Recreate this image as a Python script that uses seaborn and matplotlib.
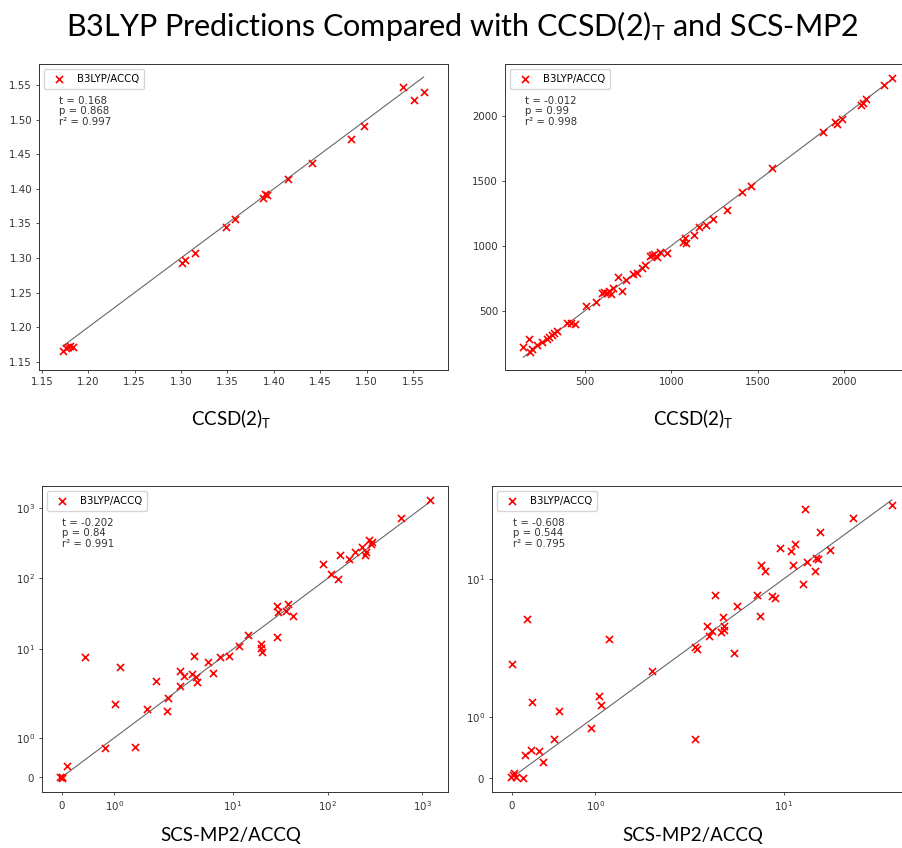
import numpy as np
import matplotlib
matplotlib.use("Agg")
import matplotlib.pyplot as plt
import seaborn as sns

# 参考值
# 上左: 键长 CCSD(2)T vs B3LYP
bond_ccsd = [1.1726, 1.1762, 1.1780, 1.1806, 1.1834, 1.3010, 1.3046, 1.3146, 1.3480, 1.3580,
             1.3880, 1.3910, 1.3930, 1.4157, 1.4415, 1.4830, 1.4967, 1.5390, 1.5515, 1.5616]
bond_b3lyp = [1.1659, 1.1693, 1.1717, 1.1731, 1.1717, 1.2930, 1.2970, 1.3070, 1.3450, 1.3560,
              1.3870, 1.3930, 1.3910, 1.4140, 1.4368, 1.4724, 1.4912, 1.5476, 1.5278, 1.5393]

# 上右: 频率 CCSD(2)T vs B3LYP
freq_ccsd = [143, 178, 182, 195, 224, 249, 278, 292, 307, 323, 336, 396, 419, 442, 506, 564,
             596, 610, 625, 639, 650, 664, 689, 712, 735, 776, 799, 828, 847, 876, 886, 899,
             915, 934, 972, 1069, 1078, 1084, 1132, 1161, 1200, 1242, 1320, 1410, 1458, 1584,
             1875, 1946, 1956, 1989, 2100, 2110, 2129, 2230, 2278]
freq_b3lyp = [218, 282, 185, 203, 236, 262, 279, 295, 313, 331, 344, 403, 408, 397, 536, 569,
              633, 646, 633, 654, 626, 672, 762, 654, 736, 779, 787, 826, 851, 921, 928, 936,
              910, 954, 946, 1026, 1059, 1023, 1085, 1141, 1159, 1205, 1277, 1415, 1456, 1595,
              1877, 1949, 1936, 1974, 2085, 2097, 2128, 2238, 2287]

# 下左: SCS-MP2/ACCQ vs B3LYP
int1_scs = [0.0, 0.01, -0.02, 0.095, 0.448, 0.827, 1.017, 1.112, 1.39, 1.62, 1.80, 2.02, 2.07,
            2.75, 2.79, 3.03, 3.71, 3.86, 4.12, 4.18, 5.46, 6.16, 7.24, 9.16, 11.5, 14.6,
            19.7, 19.7, 20.2, 29.6, 29.1, 30.0, 36.5, 38.6, 42.8, 90.2, 110, 130, 135, 169,
            194, 234, 248, 254, 273, 286, 298, 601, 1196]
int1_b3lyp = [0.02, -0.02, 0.0, 0.296, 7.83, 0.745, 1.86, 5.53, 0.78, 1.74, 3.51, 1.68, 2.02,
              3.05, 4.97, 4.13, 4.45, 8.08, 4.00, 3.40, 6.51, 4.60, 7.66, 7.91, 11.2, 15.8,
              11.8, 10.25, 9.20, 14.7, 41.1, 33.1, 34.9, 43.4, 29.0, 161, 114, 99.8, 213, 191,
              238, 279, 213, 238, 355, 311, 329, 718, 1288]

# 下右: SCS-MP2/ACCQ vs B3LYP
int2_scs = [0.012, 0.032, -0.008, 0.052, 0.132, 0.008, 0.243, 0.188, 0.571, 0.511, 0.160,
            0.231, 0.331, 0.379, 0.950, 1.050, 1.070, 1.169, 1.676, 2.57, 2.66, 2.58, 3.10,
            3.18, 3.35, 3.49, 3.86, 3.96, 4.04, 4.04, 4.71, 4.91, 6.67, 7.02, 7.13, 7.50,
            8.39, 8.83, 9.54, 11.2, 11.5, 12.0, 13.4, 13.8, 14.3, 16.3, 16.5, 16.9, 17.4,
            20.3, 29.0, 52.7]
int2_b3lyp = [0.038, 0.082, 0.016, 0.016, 0.0, 1.863, 1.233, 4.32, 1.096, 0.630, 0.373,
              0.455, 0.444, 0.258, 0.822, 1.342, 1.189, 2.84, 1.754, 2.42, 2.30, 0.641, 3.76,
              3.05, 3.38, 7.16, 3.27, 4.48, 3.71, 3.40, 2.10, 5.72, 7.16, 4.64, 13.3, 11.8,
              6.97, 6.73, 19.2, 18.2, 13.5, 20.9, 9.03, 43.4, 14.4, 11.9, 15.6, 15.3, 27.1,
              18.6, 36.1, 47.5]

stats_text = ["t = 0.168\np = 0.868\nr\u00b2 = 0.997",
              "t = -0.012\np = 0.99\nr\u00b2 = 0.998",
              "t = -0.202\np = 0.84\nr\u00b2 = 0.991",
              "t = -0.608\np = 0.544\nr\u00b2 = 0.795"]
xlabels = [r"CCSD(2)$_\mathrm{T}$", r"CCSD(2)$_\mathrm{T}$", "SCS-MP2/ACCQ", "SCS-MP2/ACCQ"]
title = r"B3LYP Predictions Compared with CCSD(2)$_\mathrm{T}$ and SCS-MP2"

# 上排坐标范围 (下排用 symlog 自动范围)
lims = [((1.1468, 1.5878), (1.138, 1.5804)),
        ((37, 2387), (44, 2397)),
        None, None]

plt.rcParams['mathtext.fontset'] = 'custom'
plt.rcParams['mathtext.rm'] = 'Lato'
plt.rcParams['mathtext.it'] = 'Lato:italic'
plt.rcParams['mathtext.bf'] = 'Lato:bold'

W, H = 902, 848
fig = plt.figure(figsize=(W / 100, H / 100), dpi=100)

# 子图位置 (像素: 左, 右, 上, 下)
boxes = [(39, 448, 64, 370), (505, 911, 64, 370),
         (42, 448, 486, 792), (492, 911, 486, 792)]
data = [(bond_ccsd, bond_b3lyp), (freq_ccsd, freq_b3lyp),
        (int1_scs, int1_b3lyp), (int2_scs, int2_b3lyp)]

for i, ((l, r, t, b), (x, y)) in enumerate(zip(boxes, data)):
    ax = fig.add_axes([l / W, (H - b) / H, (r - l) / W, (b - t) / H])
    if i >= 2:
        ax.set_xscale('symlog', linthresh=2)
        ax.set_yscale('symlog', linthresh=2)
    lo, hi = min(x), max(x)
    ax.plot([lo, hi], [lo, hi], color='k', alpha=0.6, lw=0.8, zorder=1)
    sns.scatterplot(x=x, y=y, ax=ax, marker='x', color='red', s=26,
                    linewidth=1.2, label='B3LYP/ACCQ', zorder=2)
    ax.legend(loc='upper left', fontsize=7.3, handletextpad=0.7,
              borderpad=0.5, borderaxespad=0.5)
    ax.text(0.05, 0.897, stats_text[i], transform=ax.transAxes, va='top',
            fontsize=7.3, color='#333333', linespacing=1.1)
    ax.tick_params(labelsize=7.4, length=2.5, width=0.6, pad=2.5, colors='#333333')
    if lims[i] is not None:
        ax.set_xlim(*lims[i][0])
        ax.set_ylim(*lims[i][1])
    for sp in ax.spines.values():
        sp.set_linewidth(0.7)
        sp.set_color('#333333')

fig.text(462 / W, 1 - 26 / H, title, ha='center', va='center', fontsize=22,
         family='Lato')
label_pos = [(231, 418), (693, 418), (231, 835), (693, 835)]
for (px, py), lab in zip(label_pos, xlabels):
    fig.text(px / W, 1 - py / H, lab, ha='center', va='center', fontsize=13.5,
             family='Lato')

fig.savefig('out.png', dpi=100)
